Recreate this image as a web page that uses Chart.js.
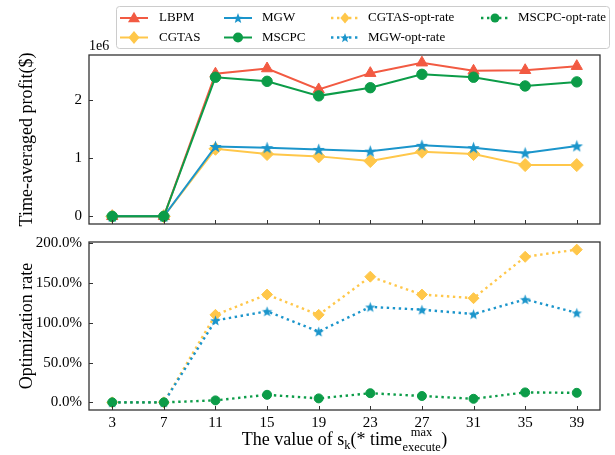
<!DOCTYPE html>
<html><head><meta charset="utf-8">
<script src="https://cdn.jsdelivr.net/npm/chart.js@4"></script>
<style>
html,body{margin:0;padding:0;background:#fff;}
#wrap{position:relative;width:615px;height:455px;background:#fff;}
#c1{position:absolute;left:0;top:0;}
#c2{position:absolute;left:0;top:232px;}
</style></head><body>
<div id="wrap"><canvas id="c1" width="615" height="232"></canvas><canvas id="c2" width="615" height="223"></canvas></div>
<script>
// ---- data ----
const categories = [3, 7, 11, 15, 19, 23, 27, 31, 35, 39];
const lbpm  = [0, 0, 2450000, 2540000, 2180000, 2460000, 2640000, 2500000, 2510000, 2580000];
const cgtas = [0, 0, 1160000, 1070000, 1030000, 950000, 1110000, 1070000, 880000, 880000];
const mgw   = [0, 0, 1200000, 1180000, 1150000, 1120000, 1220000, 1180000, 1090000, 1210000];
const mscpc = [0, 0, 2390000, 2320000, 2070000, 2210000, 2440000, 2390000, 2240000, 2310000];
const cgtasOptRate = [0, 0, 110, 135.5, 110, 158, 135.5, 131, 183, 192];
const mgwOptRate   = [0, 0, 103, 114.5, 89, 120, 116.5, 111, 129.5, 112.5];
const mscpcOptRate = [0, 0, 2.5, 9.5, 5, 11.5, 8, 4.5, 12.5, 12];
const profitTicks = [0, 1000000, 2000000];
const rateTicks = [0, 50, 100, 150, 200];
const xTicks = categories;

// ---- styles ----
const FONT = "'Liberation Serif', 'Times New Roman', serif";
const C_RED = '#F25A42', C_YEL = '#FFC74A', C_BLUE = '#1B95CB', C_GRN = '#0C9C48';
const FRAME = '#333333';

function starPath(ctx, cx, cy, R) {
  const r = R * 0.42;
  ctx.beginPath();
  for (let i = 0; i < 10; i++) {
    const rad = i % 2 === 0 ? R : r;
    const a = -Math.PI / 2 + i * Math.PI / 5;
    const px = cx + rad * Math.cos(a), py = cy + rad * Math.sin(a);
    if (i === 0) ctx.moveTo(px, py); else ctx.lineTo(px, py);
  }
  ctx.closePath();
}
function starCanvas(color, R) {
  const c = document.createElement('canvas');
  const s = Math.ceil(2 * R + 2);
  c.width = s; c.height = s;
  const ctx = c.getContext('2d');
  ctx.fillStyle = color;
  starPath(ctx, s / 2, s / 2 + 0.6, R);
  ctx.fill();
  return c;
}
const starTop = starCanvas(C_BLUE, 6.5);
const starBot = starCanvas(C_BLUE, 5.5);

function xy(arr) { return arr.map((v, i) => ({ x: categories[i], y: v })); }
function range(arrs) {
  const all = [].concat(...arrs);
  const mn = Math.min(...all), mx = Math.max(...all);
  const m = (mx - mn) * 0.05;
  return [mn - m, mx + m];
}
const xr = range([categories]);
const yTopR = range([lbpm, cgtas, mgw, mscpc]);
const yBotR = range([cgtasOptRate, mgwOptRate, mscpcOptRate]);

function ds(label, data, color, style, radius, dotted, order) {
  return {
    label, data: xy(data), borderColor: color, backgroundColor: color,
    pointBackgroundColor: color, pointBorderColor: color, pointBorderWidth: 1,
    pointStyle: style, pointRadius: radius, borderWidth: dotted ? 2.4 : 2,
    borderDash: dotted ? [2.4, 3.6] : [], tension: 0, order, fill: false
  };
}
function noPad(s) { s.paddingTop = 0; s.paddingBottom = 0; s.paddingLeft = 0; s.paddingRight = 0; }

// ---- decoration plugin: frame, inward ticks, titles, legend ----
function drawFrameTicks(chart) {
  const { ctx, chartArea: a, scales } = chart;
  ctx.save();
  ctx.strokeStyle = FRAME; ctx.lineWidth = 1.3;
  ctx.strokeRect(a.left, a.top, a.right - a.left, a.bottom - a.top);
  ctx.lineWidth = 1;
  ctx.beginPath();
  xTicks.forEach(v => {
    const px = Math.round(scales.x.getPixelForValue(v)) + 0.5;
    ctx.moveTo(px, a.bottom); ctx.lineTo(px, a.bottom - 4);
  });
  scales.y.ticks.forEach(t => {
    const py = Math.round(scales.y.getPixelForValue(t.value)) + 0.5;
    ctx.moveTo(a.left, py); ctx.lineTo(a.left + 4, py);
  });
  ctx.stroke();
  ctx.restore();
}
function drawYTitle(chart, text) {
  const { ctx, chartArea: a } = chart;
  ctx.save();
  ctx.translate(27, (a.top + a.bottom) / 2);
  ctx.rotate(-Math.PI / 2);
  ctx.font = '18px ' + FONT; ctx.fillStyle = '#000';
  ctx.textAlign = 'center'; ctx.textBaseline = 'middle';
  ctx.fillText(text, 0, 0);
  ctx.restore();
}
function drawMarker(ctx, kind, color, x, y, r) {
  ctx.fillStyle = color;
  ctx.beginPath();
  if (kind === 'triangle') {
    ctx.moveTo(x, y - r * 1.05); ctx.lineTo(x + r, y + r * 0.7); ctx.lineTo(x - r, y + r * 0.7); ctx.closePath();
  } else if (kind === 'diamond') {
    ctx.moveTo(x, y - r); ctx.lineTo(x + r * 0.85, y); ctx.lineTo(x, y + r); ctx.lineTo(x - r * 0.85, y); ctx.closePath();
  } else if (kind === 'circle') {
    ctx.arc(x, y, r, 0, Math.PI * 2);
  } else if (kind === 'star') {
    starPath(ctx, x, y + 0.6, r);
  }
  ctx.fill();
}
const legendItems = [
  { label: 'LBPM', color: C_RED, marker: 'triangle', dotted: false, col: 0, row: 0, r: 6 },
  { label: 'CGTAS', color: C_YEL, marker: 'diamond', dotted: false, col: 0, row: 1, r: 6.5 },
  { label: 'MGW', color: C_BLUE, marker: 'star', dotted: false, col: 1, row: 0, r: 5.5 },
  { label: 'MSCPC', color: C_GRN, marker: 'circle', dotted: false, col: 1, row: 1, r: 5 },
  { label: 'CGTAS-opt-rate', color: C_YEL, marker: 'diamond', dotted: true, col: 2, row: 0, r: 5.5 },
  { label: 'MGW-opt-rate', color: C_BLUE, marker: 'star', dotted: true, col: 2, row: 1, r: 5 },
  { label: 'MSCPC-opt-rate', color: C_GRN, marker: 'circle', dotted: true, col: 3, row: 0, r: 4.5 }
];
function drawLegend(ctx) {
  const bx = 116.5, by = 6.5, bw = 493, bh = 42;
  const colHandle = [120, 224, 331, 481], colText = [159, 262, 368, 518];
  const rowY = [18, 37.5];
  ctx.save();
  ctx.fillStyle = 'rgba(255,255,255,0.85)';
  ctx.strokeStyle = '#cccccc'; ctx.lineWidth = 1;
  ctx.beginPath();
  if (ctx.roundRect) ctx.roundRect(bx, by, bw, bh, 3); else ctx.rect(bx, by, bw, bh);
  ctx.fill(); ctx.stroke();
  legendItems.forEach(it => {
    const x0 = colHandle[it.col], y = rowY[it.row], x1 = x0 + 28;
    ctx.strokeStyle = it.color; ctx.lineWidth = it.dotted ? 2.4 : 2;
    ctx.setLineDash(it.dotted ? [2.4, 3.6] : []);
    ctx.beginPath(); ctx.moveTo(x0, y); ctx.lineTo(x1, y); ctx.stroke();
    ctx.setLineDash([]);
    drawMarker(ctx, it.marker, it.color, (x0 + x1) / 2, y, it.r);
    ctx.fillStyle = '#000'; ctx.font = '13px ' + FONT;
    ctx.textAlign = 'left'; ctx.textBaseline = 'middle';
    ctx.fillText(it.label, colText[it.col], y);
  });
  ctx.restore();
}
function drawXTitle(chart) {
  const { ctx, chartArea: a } = chart;
  const big = '18px ' + FONT, small = '12.5px ' + FONT;
  const base = 213;
  ctx.save();
  ctx.fillStyle = '#000'; ctx.textBaseline = 'alphabetic'; ctx.textAlign = 'left';
  ctx.font = big;
  const w1 = ctx.measureText('The value of s').width;
  const w3 = ctx.measureText('(* time').width;
  const w5 = ctx.measureText(')').width;
  ctx.font = small;
  const w2 = ctx.measureText('k').width;
  const w4 = Math.max(ctx.measureText('max').width, ctx.measureText('execute').width);
  const total = w1 + w2 + w3 + w4 + w5 + 1;
  let x = (a.left + a.right) / 2 - total / 2;
  ctx.font = big; ctx.fillText('The value of s', x, base); x += w1;
  ctx.font = small; ctx.fillText('k', x, base + 4); x += w2;
  ctx.font = big; ctx.fillText('(* time', x, base); x += w3 + 0.5;
  ctx.font = small;
  const wm = ctx.measureText('max').width;
  ctx.fillText('max', x + (w4 - wm) / 2, base - 9);
  ctx.fillText('execute', x, base + 6); x += w4 + 0.5;
  ctx.font = big; ctx.fillText(')', x, base);
  ctx.restore();
}
const decorTop = {
  id: 'decorTop',
  afterDraw(chart) {
    drawFrameTicks(chart);
    drawYTitle(chart, 'Time-averaged profit($)');
    const ctx = chart.ctx;
    ctx.save();
    ctx.font = '14px ' + FONT; ctx.fillStyle = '#000';
    ctx.textAlign = 'left'; ctx.textBaseline = 'middle';
    ctx.fillText('1e6', chart.chartArea.left, 46);
    ctx.restore();
    drawLegend(ctx);
  }
};
const decorBot = {
  id: 'decorBot',
  afterDraw(chart) {
    drawFrameTicks(chart);
    drawYTitle(chart, 'Optimization rate');
    drawXTitle(chart);
  }
};

const tickFont = { family: FONT, size: 15 };

new Chart(document.getElementById('c1'), {
  type: 'line',
  data: {
    datasets: [
      ds('LBPM', lbpm, C_RED, 'triangle', 6.5, false, 4),
      ds('CGTAS', cgtas, C_YEL, 'rectRot', 6.5, false, 3),
      ds('MGW', mgw, C_BLUE, starTop, 6, false, 2),
      ds('MSCPC', mscpc, C_GRN, 'circle', 5.2, false, 1)
    ]
  },
  options: {
    responsive: false, animation: false, clip: false,
    layout: { padding: { top: 55, right: 15, bottom: 8, left: 0 } },
    plugins: { legend: { display: false }, tooltip: { enabled: false } },
    scales: {
      x: { type: 'linear', display: false, min: xr[0], max: xr[1] },
      y: {
        type: 'linear', min: yTopR[0], max: yTopR[1],
        afterBuildTicks: s => { s.ticks = profitTicks.map(v => ({ value: v })); },
        afterFit: s => { s.width = 89; noPad(s); },
        grid: { display: false, drawTicks: false }, border: { display: false },
        ticks: { font: tickFont, color: '#000', padding: 7, callback: v => String(v / 1000000) }
      }
    }
  },
  plugins: [decorTop]
});

new Chart(document.getElementById('c2'), {
  type: 'line',
  data: {
    datasets: [
      ds('CGTAS-opt-rate', cgtasOptRate, C_YEL, 'rectRot', 5.5, true, 3),
      ds('MGW-opt-rate', mgwOptRate, C_BLUE, starBot, 5, true, 2),
      ds('MSCPC-opt-rate', mscpcOptRate, C_GRN, 'circle', 4.5, true, 1)
    ]
  },
  options: {
    responsive: false, animation: false, clip: false,
    layout: { padding: { top: 10, right: 15, bottom: 0, left: 0 } },
    plugins: { legend: { display: false }, tooltip: { enabled: false } },
    scales: {
      x: {
        type: 'linear', min: xr[0], max: xr[1],
        afterBuildTicks: s => { s.ticks = xTicks.map(v => ({ value: v })); },
        afterFit: s => { s.height = 45; noPad(s); },
        grid: { display: false, drawTicks: false }, border: { display: false },
        ticks: { font: tickFont, color: '#000', padding: 4, autoSkip: false, maxRotation: 0, callback: v => String(v) }
      },
      y: {
        type: 'linear', min: yBotR[0], max: yBotR[1],
        afterBuildTicks: s => { s.ticks = rateTicks.map(v => ({ value: v })); },
        afterFit: s => { s.width = 89; noPad(s); },
        grid: { display: false, drawTicks: false }, border: { display: false },
        ticks: { font: tickFont, color: '#000', padding: 7, callback: v => v.toFixed(1) + '%' }
      }
    }
  },
  plugins: [decorBot]
});
</script>
</body></html>
